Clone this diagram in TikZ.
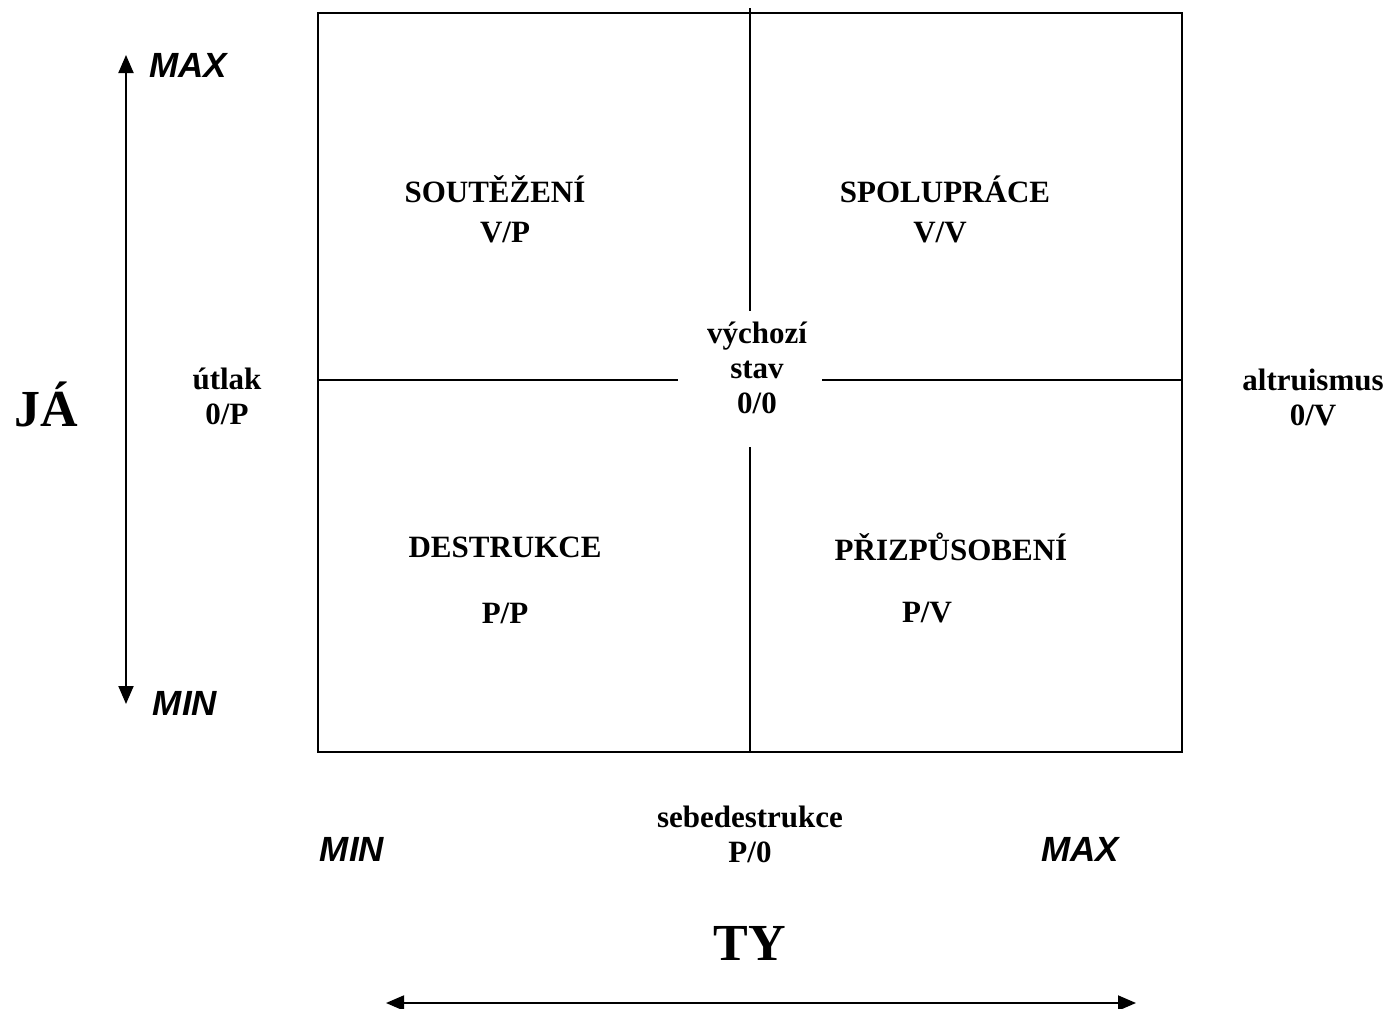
\documentclass[tikz,border=0pt]{standalone}
\usepackage{fontspec}
\setmainfont{Liberation Serif}
\setsansfont{Liberation Sans}
\usetikzlibrary{arrows.meta}
\tikzset{
  lbl/.style={font=\fontsize{31}{35}\selectfont\bfseries, inner sep=0pt, align=center},
  big/.style={font=\fontsize{52}{56}\selectfont\bfseries, inner sep=0pt},
  axl/.style={font=\fontsize{35}{38}\selectfont\sffamily\bfseries\itshape, inner sep=0pt},
  frame/.style={line width=1.9pt},
  axis/.style={line width=1.9pt, {Triangle[length=18pt,width=15pt]}-{Triangle[length=18pt,width=15pt]}}
}
\begin{document}
\begin{tikzpicture}[x=1pt,y=-1pt]
\useasboundingbox (0,0) rectangle (1390,1009);
% frame
\coordinate (tl) at (318,13);
\coordinate (br) at (1182,752);
\draw[frame] (tl) rectangle (br);
% cross lines
\coordinate (vt) at (750,8);
\coordinate (vm1) at (750,311);
\coordinate (vm2) at (750,447);
\coordinate (vb) at (750,752);
\coordinate (hl) at (318,380);
\coordinate (hm1) at (678,380);
\coordinate (hm2) at (822,380);
\coordinate (hr) at (1182,380);
\draw[frame] (vt) -- (vm1);
\draw[frame] (vm2) -- (vb);
\draw[frame] (hl) -- (hm1);
\draw[frame] (hm2) -- (hr);
% axes
\coordinate (ja1) at (126,55);
\coordinate (ja2) at (126,704);
\draw[axis] (ja2) -- (ja1);
\coordinate (ty1) at (386,1003);
\coordinate (ty2) at (1136,1003);
\draw[axis] (ty1) -- (ty2);
% quadrant labels
\node[lbl] (sout) at (495,189) {SOUTĚŽENÍ};
\node[lbl] (vp) at (505,233) {V/P};
\node[lbl] (spol) at (945,189) {SPOLUPRÁCE};
\node[lbl] (vv) at (940,233) {V/V};
\node[lbl] (dest) at (505,547) {DESTRUKCE};
\node[lbl] (pp) at (505,613) {P/P};
\node[lbl] (priz) at (951,547) {PŘIZPŮSOBENÍ};
\node[lbl] (pv) at (927,613) {P/V};
\node[lbl] (vych) at (757,368) {výchozí\\stav\\0/0};
\node[lbl] (utlak) at (227,396) {útlak\\0/P};
\node[lbl] (altr) at (1313,397) {altruismus\\0/V};
\node[lbl] (sebe) at (750,834) {sebedestrukce\\P/0};
% axis labels
\node[big] (ja) at (46,404) {JÁ};
\node[big] (ty) at (750,943) {TY};
\node[axl] (maxl) at (188,65) {MAX};
\node[axl] (minl) at (185,703) {MIN};
\node[axl] (minb) at (352,849) {MIN};
\node[axl] (maxb) at (1080,849) {MAX};
\end{tikzpicture}
\end{document}
